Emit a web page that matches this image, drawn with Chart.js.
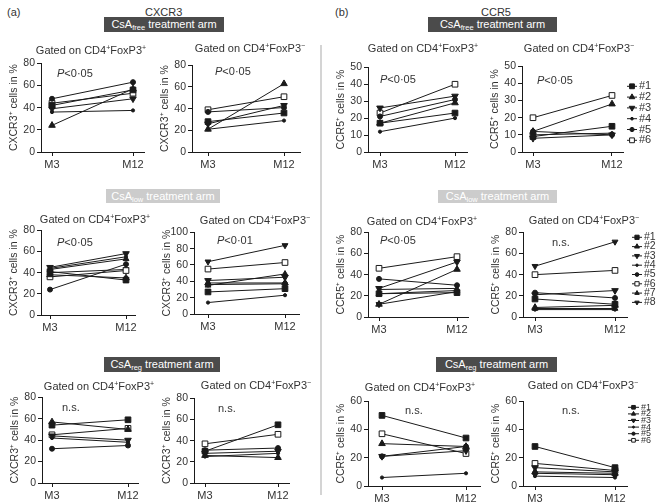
<!DOCTYPE html>
<html><head><meta charset="utf-8">
<script src="https://cdn.jsdelivr.net/npm/chart.js@4.4.0/dist/chart.umd.min.js"></script>
<style>
body{margin:0;width:666px;height:504px;position:relative;background:#fff;font-family:"Liberation Sans",Arial,sans-serif;overflow:hidden;color:#333}
.lbl{position:absolute;font-size:11px;white-space:nowrap;line-height:14px;height:14px}
.ttl{position:absolute;font-size:11px;white-space:nowrap;line-height:14px;height:14px;width:150px;text-align:center}
.ttl sup{font-size:7px;vertical-align:4px;line-height:0}
.ban{position:absolute;height:15px;line-height:15px;font-size:11px;color:#fff;text-align:center;white-space:nowrap}
.ban sub{font-size:7.5px;vertical-align:-2px;line-height:0}
.dark{background:#4b4b4b}
.light{background:#cccccc}
.divider{position:absolute;left:320px;top:45px;width:2px;height:450px;background:#d4d4d4}
canvas{position:absolute}
</style></head><body>
<div class="lbl" style="left:7px;top:5px">(a)</div>
<div class="lbl" style="left:145px;top:5px">CXCR3</div>
<div class="lbl" style="left:335px;top:5px">(b)</div>
<div class="lbl" style="left:481px;top:5px">CCR5</div>
<div class="divider"></div>
<div class="ban dark" style="left:104px;top:17px;width:120px">CsA<sub>free</sub> treatment arm</div>
<div class="ban dark" style="left:428px;top:17px;width:129px">CsA<sub>free</sub> treatment arm</div>
<div class="ban light" style="left:106px;top:189px;width:114px;height:14px;line-height:14px">CsA<sub>low</sub> treatment arm</div>
<div class="ban light" style="left:438px;top:190px;width:119px;height:13px;line-height:13px">CsA<sub>low</sub> treatment arm</div>
<div class="ban dark" style="left:104px;top:357px;width:116px">CsA<sub>reg</sub> treatment arm</div>
<div class="ban dark" style="left:436px;top:357px;width:121px">CsA<sub>reg</sub> treatment arm</div>
<script>
// ---- data ----
const timepoints = ['M3', 'M12'];
const patients6 = ['#1', '#2', '#3', '#4', '#5', '#6'];
const patients8 = ['#1', '#2', '#3', '#4', '#5', '#6', '#7', '#8'];

// [M3, M12] per patient
const cxcr3FreeFoxP3pos = [[42, 56], [24, 57], [39, 48], [36, 37.5], [48, 63], [44, 53]];
const cxcr3FreeFoxP3neg = [[28, 36], [21, 63], [26, 43], [21, 29], [37, 41], [39, 51]];
const ccr5FreeFoxP3pos = [[17, 23], [17, 29], [26, 33], [12, 20], [21, 31], [23, 40]];
const ccr5FreeFoxP3neg = [[9, 15], [12, 28], [8, 10], [10, 11], [12, 10], [20, 33]];

const cxcr3LowFoxP3pos = [[41, 33], [38, 35], [45, 58], [44, 55], [24, 48], [36, 42], [43, 53], [40, 43]];
const cxcr3LowFoxP3neg = [[27, 31], [38, 38], [41, 45], [14, 23], [36, 37], [55, 63], [35, 49], [64, 84]];
const ccr5LowFoxP3pos = [[22, 23], [12, 45], [27, 52], [26, 27], [36, 30], [46, 57], [22, 25], [12, 24]];
const ccr5LowFoxP3neg = [[17, 12], [9, 11], [21, 25], [7, 7], [23, 18], [40, 44], [8, 8], [48, 71]];

const cxcr3RegFoxP3pos = [[54, 59], [57, 50], [44, 40], [42, 38], [32, 35], [45, 51]];
const cxcr3RegFoxP3neg = [[30, 55], [26, 24], [28, 30], [25, 28], [31, 33], [37, 46]];
const ccr5RegFoxP3pos = [[50, 34], [30, 28], [21, 25], [6, 9], [21, 28], [37, 23]];
const ccr5RegFoxP3neg = [[28, 13], [10, 9], [13, 10], [7, 6], [9, 8], [16, 11]];

const ticks0to80 = [0, 20, 40, 60, 80];
const ticks0to50 = [0, 10, 20, 30, 40, 50];
const ticks0to100 = [0, 20, 40, 60, 80, 100];
const ticks0to60 = [0, 20, 40, 60];

const notes = ['P<0·05', 'P<0·01', 'n.s.'];
const cxcr3Title = 'CXCR3⁺ cells in %';
const ccr5Title = 'CCR5⁺ cells in %';

// ---- styles ----
const FAM = '"Liberation Sans", Arial, sans-serif';
const INK = '#1a1a1a';
const markers = [
  {pointStyle: 'rect', radius: 4, fill: INK, rot: 0},
  {pointStyle: 'triangle', radius: 3.8, fill: INK, rot: 0},
  {pointStyle: 'triangle', radius: 3.8, fill: INK, rot: 180},
  {pointStyle: 'circle', radius: 1.6, fill: INK, rot: 0},
  {pointStyle: 'circle', radius: 2.5, fill: INK, rot: 0},
  {pointStyle: 'rect', radius: 4, fill: '#ffffff', rot: 0},
  {pointStyle: 'triangle', radius: 3.4, fill: INK, rot: 0},
  {pointStyle: 'triangle', radius: 3.4, fill: INK, rot: 180}
];

const notePlugin = {
  id: 'note',
  afterDraw(chart, args, o) {
    if (!o || !o.text) return;
    const ctx = chart.ctx;
    const x = chart.scales.x.getPixelForValue(0) + o.dx;
    const y = chart.chartArea.top + o.dy;
    ctx.save();
    ctx.fillStyle = '#333';
    ctx.textBaseline = 'middle';
    ctx.textAlign = 'left';
    if (o.text.charAt(0) === 'P') {
      ctx.font = 'italic 11px ' + FAM;
      ctx.fillText('P', x, y);
      const w = ctx.measureText('P').width;
      ctx.font = '11px ' + FAM;
      ctx.fillText(o.text.slice(1), x + w, y);
    } else {
      ctx.font = '11px ' + FAM;
      ctx.fillText(o.text, x, y);
    }
    ctx.restore();
  }
};

const sideLegendPlugin = {
  id: 'sideLegend',
  afterDraw(chart, args, o) {
    if (!o || !o.show) return;
    const ctx = chart.ctx, ca = chart.chartArea;
    chart.data.datasets.forEach((ds, i) => {
      const y = ca.top + o.dy + i * o.gap;
      const x0 = ca.right + o.dx;
      ctx.save();
      ctx.strokeStyle = INK; ctx.lineWidth = 1;
      ctx.beginPath(); ctx.moveTo(x0, y); ctx.lineTo(x0 + o.len, y); ctx.stroke();
      ctx.fillStyle = ds.pointBackgroundColor;
      Chart.helpers.drawPoint(ctx, {pointStyle: ds.pointStyle, rotation: ds.pointRotation, radius: ds.pointRadius * o.scale, borderWidth: 1}, x0 + o.len / 2, y);
      ctx.fillStyle = '#333';
      ctx.font = o.font + 'px ' + FAM;
      ctx.textBaseline = 'middle';
      ctx.fillText(ds.label, x0 + o.len + 2, y);
      ctx.restore();
    });
  }
};

// ---- panel layout ----
const panels = [
  {data: cxcr3FreeFoxP3pos, labels: patients6, ticks: ticks0to80, yTitle: cxcr3Title, gate: '+', note: notes[0], L: 41, a: 52, b: 133, top: 63, bot: 152, nx: 5, ny: 11, tc: 91, ty: 50},
  {data: cxcr3FreeFoxP3neg, labels: patients6, ticks: ticks0to80, yTitle: cxcr3Title, gate: '−', note: notes[0], L: 192, a: 208, b: 284, top: 65, bot: 152, nx: 7, ny: 7, tc: 250, ty: 48},
  {data: ccr5FreeFoxP3pos, labels: patients6, ticks: ticks0to50, yTitle: ccr5Title, gate: '+', note: notes[0], L: 368, a: 380, b: 455, top: 67, bot: 152, nx: 0, ny: 13, tc: 423, ty: 48},
  {data: ccr5FreeFoxP3neg, labels: patients6, ticks: ticks0to50, yTitle: ccr5Title, gate: '−', note: notes[0], L: 522, a: 533, b: 612, top: 66, bot: 152, nx: 4, ny: 15, tc: 579, ty: 48,
   legend: {show: true, dx: 4, dy: 20, gap: 10.8, len: 10, font: 11, scale: 0.85}},
  {data: cxcr3LowFoxP3pos, labels: patients8, ticks: ticks0to80, yTitle: cxcr3Title, gate: '+', note: notes[0], L: 41, a: 50, b: 126, top: 230, bot: 315, nx: 7, ny: 13, tc: 95, ty: 219},
  {data: cxcr3LowFoxP3neg, labels: patients8, ticks: ticks0to100, yTitle: cxcr3Title, gate: '−', note: notes[1], L: 194, a: 208, b: 285, top: 232, bot: 314, nx: 9, ny: 9, tc: 255, ty: 220},
  {data: ccr5LowFoxP3pos, labels: patients8, ticks: ticks0to80, yTitle: ccr5Title, gate: '+', note: notes[0], L: 368, a: 379, b: 457, top: 232, bot: 317, nx: 1, ny: 9, tc: 422, ty: 221},
  {data: ccr5LowFoxP3neg, labels: patients8, ticks: ticks0to80, yTitle: ccr5Title, gate: '−', note: notes[2], L: 523, a: 535, b: 615, top: 232, bot: 317, nx: 17, ny: 11, tc: 584, ty: 220,
   legend: {show: true, dx: 5, dy: 5, gap: 9.3, len: 10, font: 10.5, scale: 0.75}},
  {data: cxcr3RegFoxP3pos, labels: patients6, ticks: ticks0to80, yTitle: cxcr3Title, gate: '+', note: notes[2], L: 42, a: 52, b: 128, top: 397, bot: 483, nx: 10, ny: 11, tc: 99, ty: 386},
  {data: cxcr3RegFoxP3neg, labels: patients6, ticks: ticks0to80, yTitle: cxcr3Title, gate: '−', note: notes[2], L: 194, a: 205, b: 278, top: 398, bot: 483, nx: 13, ny: 11, tc: 256, ty: 385},
  {data: ccr5RegFoxP3pos, labels: patients6, ticks: ticks0to60, yTitle: ccr5Title, gate: '+', note: notes[2], L: 368, a: 382, b: 466, top: 401, bot: 486, nx: 23, ny: 10, tc: 420, ty: 387},
  {data: ccr5RegFoxP3neg, labels: patients6, ticks: ticks0to60, yTitle: ccr5Title, gate: '−', note: notes[2], L: 523, a: 535, b: 615, top: 401, bot: 486, nx: 27, ny: 10, tc: 583, ty: 385,
   legend: {show: true, dx: 1, dy: 6, gap: 6.6, len: 11, font: 9, scale: 0.65}}
];

function build(p) {
  const areaRight = p.b + (p.a - p.L);
  const span = p.b - p.a;
  const xmin = -(p.a - p.L) / span, xmax = 1 + (areaRight - p.b) / span;
  const cl = p.L - 38, ct = p.top - 8;
  const padR = p.legend ? (666 - areaRight) : 6;
  const w = areaRight - cl + padR, h = p.bot - ct + 20;
  const cv = document.createElement('canvas');
  cv.width = w; cv.height = h;
  cv.style.left = cl + 'px'; cv.style.top = ct + 'px';
  cv.style.width = w + 'px'; cv.style.height = h + 'px';
  document.body.appendChild(cv);

  const t = document.createElement('div');
  t.className = 'ttl';
  t.style.left = (p.tc - 75) + 'px';
  t.style.top = (p.ty - 7) + 'px';
  t.innerHTML = 'Gated on CD4<sup>+</sup>FoxP3<sup>' + p.gate + '</sup>';
  document.body.appendChild(t);

  new Chart(cv, {
    type: 'line',
    data: {
      datasets: p.data.map((v, i) => ({
        label: p.labels[i],
        data: timepoints.map((tp, j) => ({x: j, y: v[j]})),
        borderColor: INK, borderWidth: 1,
        pointStyle: markers[i].pointStyle, pointRadius: markers[i].radius,
        pointRotation: markers[i].rot, pointBackgroundColor: markers[i].fill,
        pointBorderColor: INK, pointBorderWidth: 1
      }))
    },
    options: {
      responsive: false, animation: false, devicePixelRatio: 1, events: [],
      layout: {padding: {left: 0, top: 8, right: padR, bottom: 0}},
      scales: {
        x: {
          type: 'linear', min: xmin, max: xmax,
          afterBuildTicks: s => { s.ticks = timepoints.map((tp, j) => ({value: j})); },
          afterFit: s => { s.height = 20; },
          ticks: {autoSkip: false, maxRotation: 0, padding: 2, color: '#333', font: {size: 11, family: FAM},
                  callback: v => timepoints[Math.round(v)]},
          grid: {drawOnChartArea: false, tickLength: 4, color: INK},
          border: {color: INK, width: 1}
        },
        y: {
          min: 0, max: p.ticks[p.ticks.length - 1],
          afterBuildTicks: s => { s.ticks = p.ticks.map(v => ({value: v})); },
          afterFit: s => { s.width = 38; },
          ticks: {padding: 2, color: '#333', font: {size: 10.5, family: FAM}},
          grid: {drawOnChartArea: false, tickLength: 4, color: INK},
          border: {color: INK, width: 1},
          title: {display: true, text: p.yTitle, color: '#333', font: {size: 10.5, family: FAM}, padding: {top: 5, bottom: 0}}
        }
      },
      plugins: {
        legend: {display: false}, tooltip: {enabled: false},
        note: {text: p.note, dx: p.nx, dy: p.ny},
        sideLegend: p.legend || {show: false}
      }
    },
    plugins: [notePlugin, sideLegendPlugin]
  });
}
panels.forEach(build);
</script>
</body></html>
